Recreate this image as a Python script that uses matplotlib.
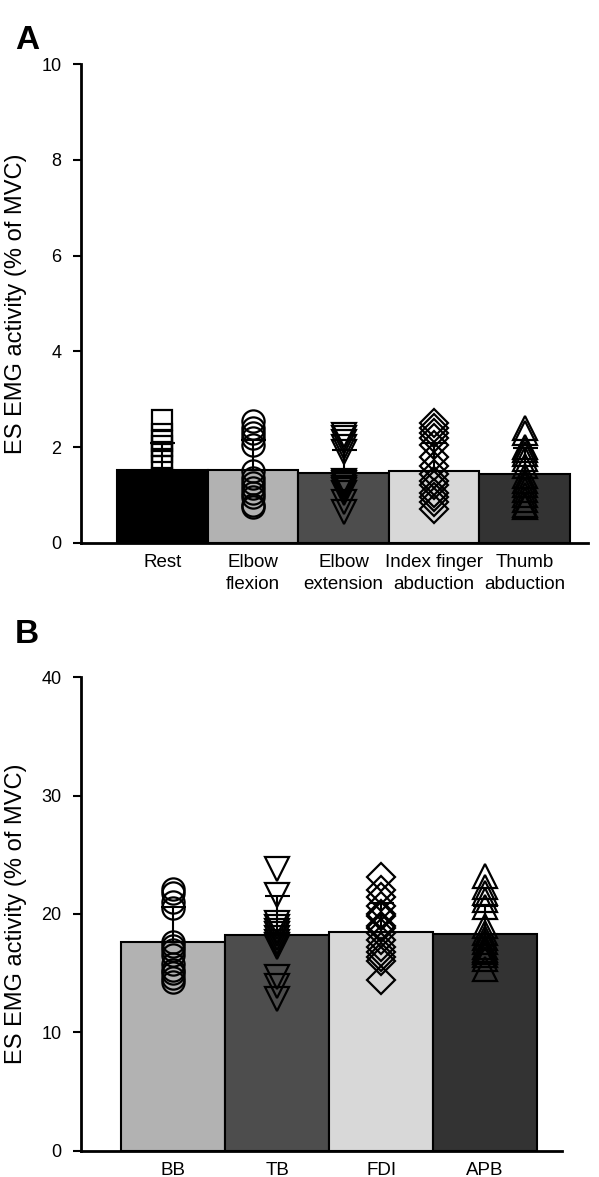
import matplotlib.pyplot as plt
import numpy as np

plt.rcParams['font.family'] = ['Liberation Sans', 'DejaVu Sans']

# Panel A: tasks
tasks_a = ['Rest', 'Elbow\nflexion', 'Elbow\nextension', 'Index finger\nabduction', 'Thumb\nabduction']
means_a = [1.53, 1.52, 1.47, 1.51, 1.44]
sd_a = [0.55, 0.62, 0.47, 0.58, 0.55]
colors_a = ['#000000', '#b2b2b2', '#4d4d4d', '#d8d8d8', '#333333']
markers_a = ['s', 'o', 'v', 'D', '^']
points_a = [
    [2.57, 2.28, 2.13, 2.03, 1.9, 1.75, 1.6, 1.35, 1.2, 1.1, 1.0, 0.9, 0.8, 0.7],
    [2.55, 2.4, 2.3, 2.2, 2.05, 1.5, 1.35, 1.25, 1.15, 1.05, 0.95, 0.8, 0.75],
    [2.25, 2.2, 2.1, 2.0, 1.9, 1.3, 1.25, 1.2, 1.15, 1.1, 1.05, 0.85, 0.65],
    [2.5, 2.4, 2.3, 2.2, 2.05, 1.8, 1.6, 1.45, 1.3, 1.2, 1.05, 0.95, 0.85, 0.7],
    [2.4, 2.3, 2.0, 1.95, 1.85, 1.75, 1.6, 1.4, 1.3, 1.2, 1.1, 1.0, 0.9, 0.8, 0.75],
]

# Panel B: muscles
muscles_b = ['BB', 'TB', 'FDI', 'APB']
means_b = [17.6, 18.2, 18.5, 18.3]
sd_b = [3.0, 3.3, 2.4, 2.4]
colors_b = ['#b2b2b2', '#4d4d4d', '#d8d8d8', '#333333']
markers_b = ['o', 'v', 'D', '^']
points_b = [
    [22.1, 21.8, 21.0, 20.5, 17.6, 17.3, 17.0, 16.5, 15.8, 15.3, 15.0, 14.6, 14.3],
    [23.8, 21.6, 19.2, 18.9, 18.6, 18.3, 18.0, 17.6, 17.2, 17.4, 14.7, 13.9, 12.8],
    [23.1, 22.0, 21.4, 20.7, 19.8, 20.0, 18.8, 19.0, 18.4, 17.8, 17.2, 16.8, 16.4, 16.0, 14.4],
    [23.2, 22.3, 21.8, 21.2, 20.6, 19.0, 18.4, 18.0, 17.6, 17.2, 17.0, 16.8, 16.5, 16.2, 15.4],
]

msizes = {'s': 15, 'o': 16, 'v': 17, '^': 17, 'D': 14}

fig = plt.figure(figsize=(5.99, 11.77), dpi=100)
ax_a = fig.add_axes([0.135, 0.5387, 0.847, 0.4069])
ax_b = fig.add_axes([0.135, 0.0221, 0.803, 0.4027])


def draw_panel(ax, labels, means, sds, colors, markers, points, ymax, ystep, xlim):
    x = np.arange(len(labels))
    ax.bar(x, means, width=1.0, color=colors, edgecolor='black', linewidth=1.5, zorder=2)
    ax.errorbar(x, means, yerr=[np.zeros(len(sds)), sds], fmt='none', ecolor='black',
                elinewidth=1.5, capsize=9, capthick=1.5, zorder=3)
    for i, (pts, m) in enumerate(zip(points, markers)):
        ax.plot(np.full(len(pts), x[i]), pts, linestyle='none', marker=m,
                markersize=msizes[m], markerfacecolor='none', markeredgecolor='black',
                markeredgewidth=1.6, zorder=4, clip_on=False)
    ax.set_xlim(*xlim)
    ax.set_ylim(0, ymax)
    ax.set_yticks(np.arange(0, ymax + ystep / 2, ystep))
    ax.set_xticks(x, labels)
    ax.tick_params(axis='x', length=0, labelsize=13.5, pad=8)
    ax.tick_params(axis='y', length=6, width=1.5, labelsize=13, pad=8)
    for lab in ax.get_xticklabels():
        lab.set_linespacing(1.4)
    for s in ['top', 'right']:
        ax.spines[s].set_visible(False)
    for s in ['left', 'bottom']:
        ax.spines[s].set_linewidth(2)
    ax.set_ylabel('ES EMG activity (% of MVC)', fontsize=17, labelpad=10)


draw_panel(ax_a, tasks_a, means_a, sd_a, colors_a, markers_a, points_a, 10, 2, (-0.9, 4.7))
draw_panel(ax_b, muscles_b, means_b, sd_b, colors_b, markers_b, points_b, 40, 10, (-0.89, 3.74))

fig.text(0.025, 0.966, 'A', fontsize=24, fontweight='bold', va='center')
fig.text(0.025, 0.461, 'B', fontsize=24, fontweight='bold', va='center')

fig.savefig('out.png', dpi=100)
